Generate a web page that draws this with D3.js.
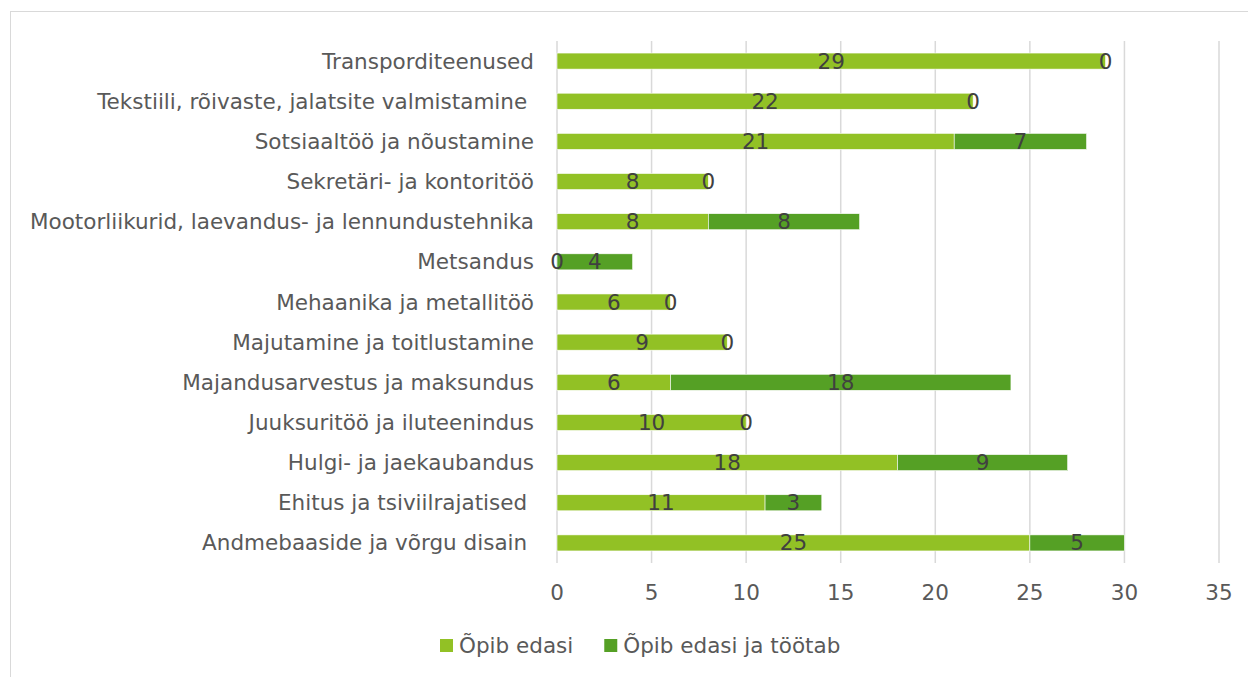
<!DOCTYPE html>
<html>
<head>
<meta charset="utf-8">
<script src="https://cdn.jsdelivr.net/npm/d3@7"></script>
<style>
  body { margin: 0; background: #fff; }
  text { font-family: "DejaVu Sans", sans-serif; white-space: pre; }
</style>
</head>
<body>
<svg id="chart"></svg>
<script>
const categories = [
    "Transporditeenused",
    "Tekstiili, rõivaste, jalatsite valmistamine ",
    "Sotsiaaltöö ja nõustamine",
    "Sekretäri- ja kontoritöö",
    "Mootorliikurid, laevandus- ja lennundustehnika",
    "Metsandus",
    "Mehaanika ja metallitöö",
    "Majutamine ja toitlustamine",
    "Majandusarvestus ja maksundus",
    "Juuksuritöö ja iluteenindus",
    "Hulgi- ja jaekaubandus",
    "Ehitus ja tsiviilrajatised ",
    "Andmebaaside ja võrgu disain "
];
const studies = [29, 22, 21, 8, 8, 0, 6, 9, 6, 10, 18, 11, 25];
const studiesAndWorks = [0, 0, 7, 0, 8, 4, 0, 0, 18, 0, 9, 3, 5];
const seriesNames = ["Õpib edasi", "Õpib edasi ja töötab"];
const xTicks = [0, 5, 10, 15, 20, 25, 30, 35];

const width = 1248;
const height = 677;
const fontSize = 21.5;
const colors = ["#92c125", "#55a025"];
const margin = { top: 41, right: 29, bottom: 114, left: 557 };

const svg = d3.select('#chart')
    .attr('width', width)
    .attr('height', height);

//outer chart frame
svg.append('rect')
    .attr('x', 10.5)
    .attr('y', 11.5)
    .attr('width', width + 10)
    .attr('height', height + 10)
    .attr('fill', 'none')
    .attr('stroke', '#d9d9d9');

const xScale = d3.scaleLinear()
    .domain([0, 35])
    .range([margin.left, width - margin.right]);

const yScale = d3.scaleBand()
    .domain(categories)
    .range([margin.top, height - margin.bottom])
    .padding(0.6)
    .paddingOuter(0.3);

//gridlines
svg.append('g')
    .selectAll('line')
    .data(xTicks)
    .enter()
    .append('line')
    .attr('x1', d => xScale(d))
    .attr('x2', d => xScale(d))
    .attr('y1', margin.top)
    .attr('y2', height - margin.bottom)
    .attr('stroke', '#d9d9d9')
    .attr('stroke-width', 1.5);

//tick labels
svg.append('g')
    .selectAll('text')
    .data(xTicks)
    .enter()
    .append('text')
    .attr('x', d => xScale(d))
    .attr('y', 592)
    .attr('dy', '0.35em')
    .attr('text-anchor', 'middle')
    .attr('font-size', fontSize)
    .attr('fill', '#595959')
    .text(d => d);

//category labels
svg.append('g')
    .selectAll('text')
    .data(categories)
    .enter()
    .append('text')
    .attr('x', margin.left - 23)
    .attr('y', d => yScale(d) + yScale.bandwidth() / 2)
    .attr('dy', '0.35em')
    .attr('text-anchor', 'end')
    .attr('font-size', fontSize)
    .attr('fill', '#595959')
    .text(d => d);

//stacked bars
const rows = categories.map((c, i) => ({ category: c, a: studies[i], b: studiesAndWorks[i] }));
const stacked = d3.stack().keys(['a', 'b'])(rows);

svg.append('g')
    .selectAll('g')
    .data(stacked)
    .enter()
    .append('g')
    .attr('fill', (d, i) => colors[i])
    .selectAll('rect')
    .data(d => d)
    .enter()
    .append('rect')
    .attr('x', d => xScale(d[0]))
    .attr('y', d => yScale(d.data.category))
    .attr('width', d => xScale(d[1]) - xScale(d[0]))
    .attr('height', yScale.bandwidth())
    .attr('stroke', '#ffffff')
    .attr('stroke-width', 0.6);

//data labels, drawn over all bars
const labels = stacked.flatMap(layer => layer.map(v => ({ v: v, key: layer.key })));
svg.append('g')
    .selectAll('text')
    .data(labels)
    .enter()
    .append('text')
    .attr('x', d => xScale((d.v[0] + d.v[1]) / 2))
    .attr('y', d => yScale(d.v.data.category) + yScale.bandwidth() / 2)
    .attr('dy', '0.35em')
    .attr('text-anchor', 'middle')
    .attr('font-size', fontSize)
    .attr('fill', '#404040')
    .text(d => d.v.data[d.key]);

//legend
const legend = svg.append('g')
    .attr('transform', 'translate(440, 645.5)');
let legendX = 0;
seriesNames.forEach((name, i) => {
    legend.append('rect')
        .attr('x', legendX)
        .attr('y', -6.5)
        .attr('width', 13)
        .attr('height', 13)
        .attr('fill', colors[i]);
    const t = legend.append('text')
        .attr('x', legendX + 19)
        .attr('y', 0)
        .attr('dy', '0.35em')
        .attr('font-size', fontSize)
        .attr('fill', '#595959')
        .text(name);
    legendX += 19 + t.node().getComputedTextLength() + 31;
});
</script>
</body>
</html>
